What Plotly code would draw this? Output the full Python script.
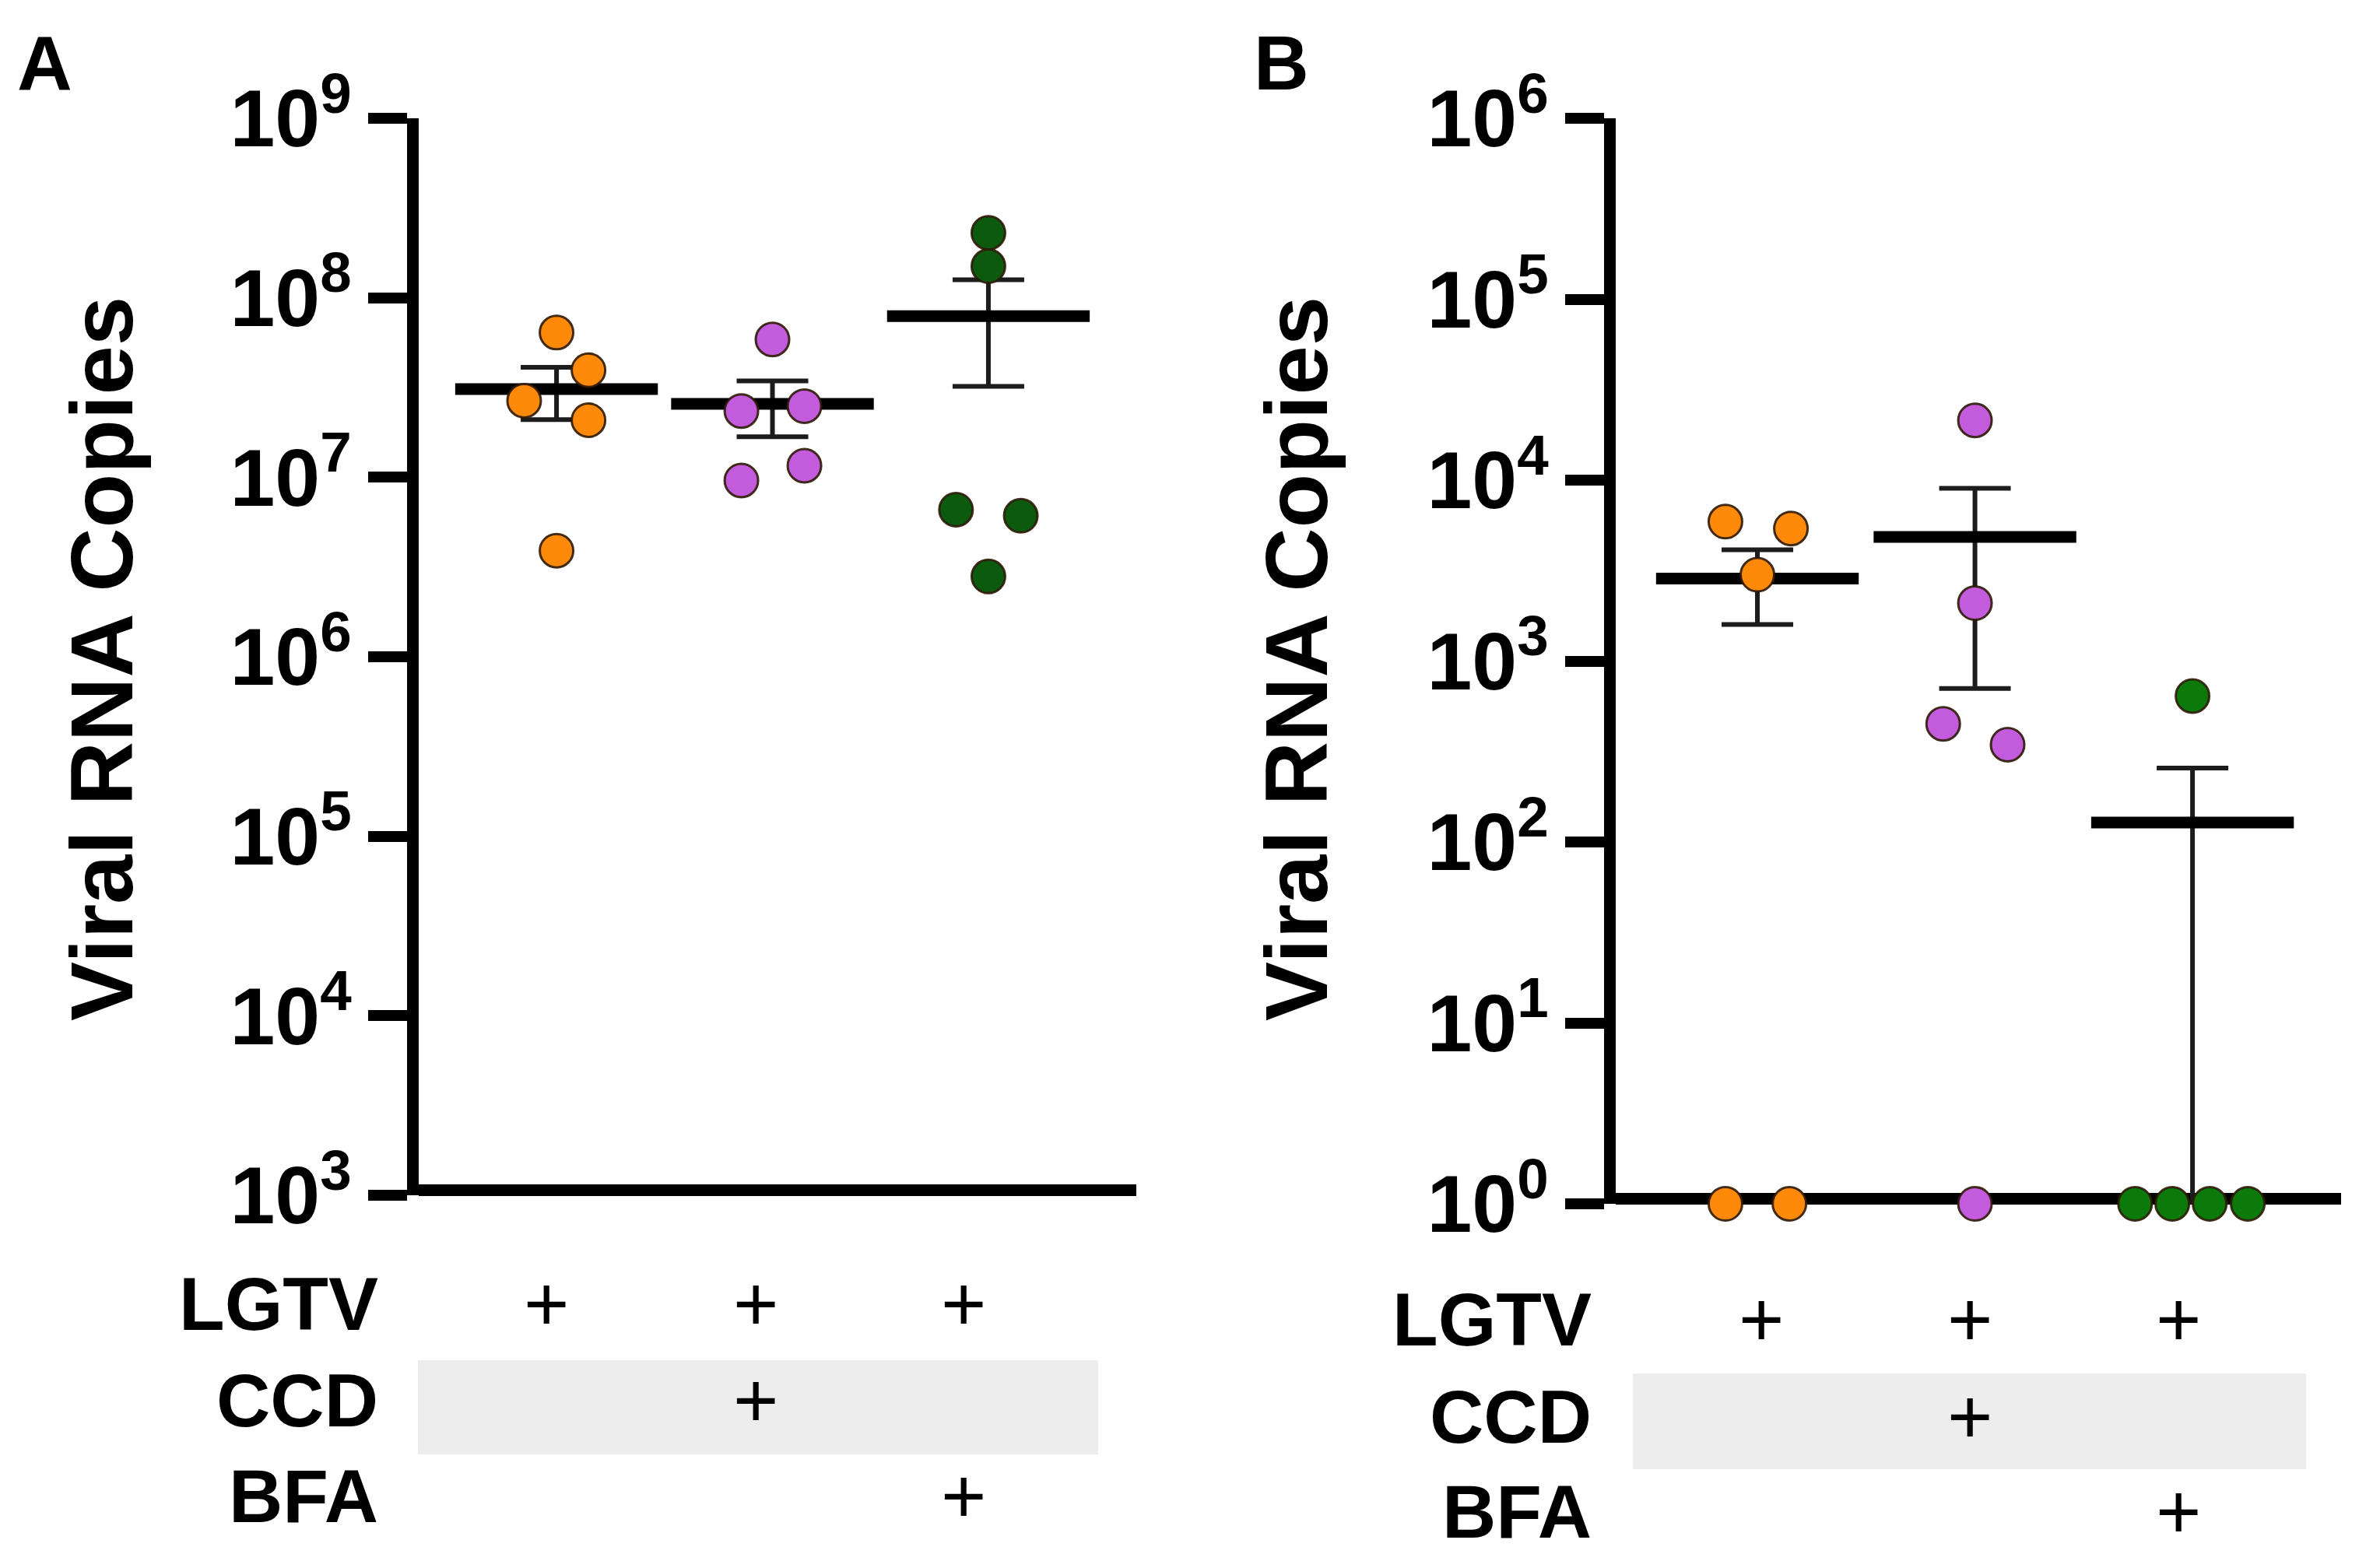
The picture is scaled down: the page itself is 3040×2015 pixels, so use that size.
import numpy as np
import plotly.graph_objects as go

# ---------------- data ----------------
groups = ["LGTV", "LGTV + CCD", "LGTV + BFA"]
colors_a = ["#FF8A0A", "#C25BDC", "#0B5A0E"]
colors_b = ["#FF8A0A", "#C25BDC", "#0B7A0B"]

# Panel A (viral RNA copies)
a_lgtv = [6.4e7, 3.95e7, 2.67e7, 2.08e7, 3.9e6]
a_ccd = [5.86e7, 2.34e7, 2.49e7, 9.6e6, 1.16e7]
a_bfa = [2.3e8, 1.5e8, 6.6e6, 6.1e6, 2.8e6]

# Panel B (viral RNA copies, zeros sit on the axis floor)
b_lgtv = [5.9e3, 5.4e3, 3.0e3, 0, 0]
b_ccd = [2.14e4, 2.09e3, 450, 345, 0]
b_bfa = [641, 0, 0, 0, 0]

row_labels = ["LGTV", "CCD", "BFA"]
treatment = [[1, 1, 1], [0, 1, 0], [0, 0, 1]]   # "+" marks
a_ticks_exp = [3, 4, 5, 6, 7, 8, 9]
b_ticks_exp = [0, 1, 2, 3, 4, 5, 6]
y_title = "Viral RNA Copies"

# ---------------- layout helpers (positions/styles) ----------------
W, H = 3040, 2015
OFF = 8  # page margin of the html body
def px(x):
    return (x - OFF) / W
def py(y):
    return 1 - (y - OFF) / H

a_offsets = [[0, 0.148, -0.15, 0.148, 0],
             [0, -0.144, 0.148, -0.144, 0.148],
             [0, 0, -0.15, 0.15, 0]]
b_offsets = [[-0.147, 0.154, 0, -0.147, 0.147],
             [0, 0, -0.146, 0.15, 0],
             [0, -0.264, -0.093, 0.079, 0.254]]
a_plus_x = [-0.047, 0.922, 1.885]
b_plus_x = [0.018, 0.977, 1.936]
A_RANGE = [-0.64, 2.685]
B_RANGE = [-0.653, 2.683]

FONT = "Liberation Sans, Arial, sans-serif"
MARK = 43
LW = 15
fig = go.Figure()

def add_panel(data, offsets, xa, ya, floor, colors):
    for gi, vals in enumerate(data):
        v = np.array(vals, dtype=float)
        mean = v.mean()
        sem = v.std(ddof=1) / np.sqrt(len(v))
        lower = max(mean - sem, floor)
        fig.add_trace(go.Scatter(
            x=[gi], y=[mean], mode="markers", xaxis=xa, yaxis=ya,
            marker=dict(symbol="line-ew", size=186,
                        line=dict(width=15, color="black")),
            error_y=dict(type="data", symmetric=False, array=[sem],
                         arrayminus=[mean - lower], thickness=6, width=46,
                         color="#1c1c1c"),
            cliponaxis=False, showlegend=False, hoverinfo="skip"))
    for gi, vals in enumerate(data):
        v = np.array(vals, dtype=float)
        yv = np.where(v <= 0, floor, v)
        fig.add_trace(go.Scatter(
            x=[gi + o for o in offsets[gi]], y=yv, mode="markers",
            xaxis=xa, yaxis=ya,
            marker=dict(size=MARK, color=colors[gi],
                        line=dict(width=3, color="rgba(45,25,5,0.9)")),
            cliponaxis=False, showlegend=False))

add_panel([a_lgtv, a_ccd, a_bfa], a_offsets, "x", "y", 1e3, colors_a)
add_panel([b_lgtv, b_ccd, b_bfa], b_offsets, "x2", "y2", 1e0, colors_b)

def yaxis_cfg(domain, exps, anchor):
    return dict(
        domain=domain, type="log", range=[exps[0], exps[-1]], anchor=anchor,
        tickvals=[10.0 ** e for e in exps],
        ticktext=[f"10<sup>{e}</sup>" for e in exps],
        tickfont=dict(family=FONT, size=104, color="black", weight="bold"),
        ticks="outside", ticklen=50, tickwidth=14, tickcolor="black",
        showline=True, linewidth=LW, linecolor="black", automargin=False,
        showgrid=False, zeroline=False, layer="below traces")

def xaxis_cfg(domain, rng, bottom_px):
    return dict(
        domain=domain, range=rng, anchor="free",
        position=py(bottom_px - LW / 2), automargin=False,
        showticklabels=False, ticks="", showline=True, linewidth=LW,
        linecolor="black", showgrid=False, zeroline=False,
        layer="below traces")

fig.update_layout(
    width=W, height=H, margin=dict(l=0, r=0, t=0, b=0, autoexpand=False),
    paper_bgcolor="white", plot_bgcolor="white",
    xaxis=xaxis_cfg([px(530 + LW / 2), px(1460)], A_RANGE, 1536),
    yaxis=yaxis_cfg([py(1536), py(152)], a_ticks_exp, "x"),
    xaxis2=xaxis_cfg([px(2068 + LW / 2), px(3008)], B_RANGE, 1547),
    yaxis2=yaxis_cfg([py(1547), py(152)], b_ticks_exp, "x2"),
)

ann = []
# panel letters
for letter, x in [("A", 20), ("B", 1609)]:
    ann.append(dict(text=letter, x=px(x), y=py(24), xref="paper", yref="paper",
                    xanchor="left", yanchor="top", showarrow=False,
                    font=dict(family=FONT, size=98, color="black", weight="bold")))
# y titles
for x in [130, 1665]:
    ann.append(dict(text=y_title, x=px(x), y=py(847), xref="paper", yref="paper",
                    textangle=-90, xanchor="center", yanchor="middle",
                    showarrow=False,
                    font=dict(family=FONT, size=114, color="black", weight="bold")))
# treatment table
tables = [("x", 488, [1675, 1799, 1922], a_plus_x),
          ("x2", 2047, [1695, 1820, 1942], b_plus_x)]
for xref, xr, rows_y, plus_x in tables:
    for ri, lab in enumerate(row_labels):
        ann.append(dict(text=lab, x=px(xr), y=py(rows_y[ri]), xref="paper",
                        yref="paper", xanchor="right", yanchor="middle",
                        showarrow=False,
                        font=dict(family=FONT, size=96, color="black", weight="bold")))
        for gi, flag in enumerate(treatment[ri]):
            if flag:
                ann.append(dict(text="+", x=plus_x[gi], y=py(rows_y[ri]),
                                xref=xref, yref="paper", xanchor="center",
                                yanchor="middle", showarrow=False,
                                font=dict(family=FONT, size=100, color="black")))
fig.update_layout(annotations=ann)

# grey band behind CCD row
fig.update_layout(shapes=[
    dict(type="rect", xref="paper", yref="paper", x0=px(537), x1=px(1411),
         y0=py(1869), y1=py(1748), fillcolor="#EDEDED", line=dict(width=0),
         layer="below"),
    dict(type="rect", xref="paper", yref="paper", x0=px(2098), x1=px(2963),
         y0=py(1888), y1=py(1765), fillcolor="#EDEDED", line=dict(width=0),
         layer="below"),
])

fig.write_html("out.html")
